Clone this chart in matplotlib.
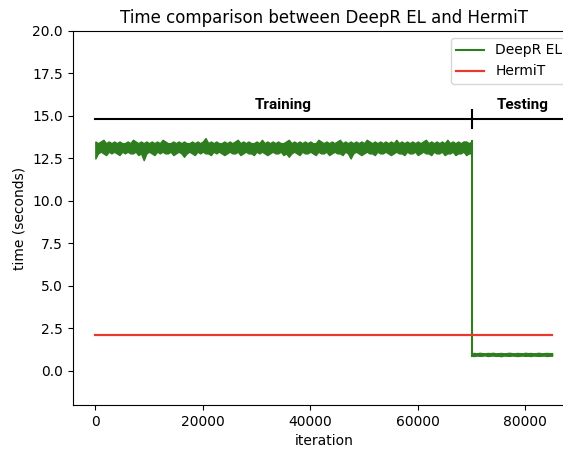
import numpy as np
import matplotlib
matplotlib.use('Agg')
import matplotlib.pyplot as plt

# DeepR EL timing: upper and lower edge of the noisy band,
# one reading every 500 iterations
step = 500
train_high = [
    13.5, 13.4, 13.5, 13.6, 13.4, 13.5, 13.4, 13.5, 13.4, 13.5, 13.4, 13.4, 13.5, 13.4, 13.6, 13.5, 13.4, 13.5, 13.4, 13.5,
    13.4, 13.5, 13.4, 13.5, 13.4, 13.6, 13.5, 13.4, 13.4, 13.5, 13.4, 13.5, 13.4, 13.5, 13.4, 13.4, 13.5, 13.4, 13.5, 13.4,
    13.5, 13.7, 13.4, 13.5, 13.4, 13.5, 13.4, 13.4, 13.5, 13.4, 13.5, 13.4, 13.5, 13.6, 13.4, 13.5, 13.4, 13.5, 13.4, 13.4,
    13.5, 13.4, 13.6, 13.4, 13.5, 13.4, 13.5, 13.4, 13.5, 13.4, 13.4, 13.5, 13.6, 13.4, 13.5, 13.4, 13.5, 13.4, 13.5, 13.4,
    13.5, 13.4, 13.4, 13.6, 13.5, 13.4, 13.5, 13.4, 13.5, 13.4, 13.5, 13.6, 13.4, 13.5, 13.4, 13.5, 13.4, 13.5, 13.4, 13.5,
    13.4, 13.6, 13.5, 13.4, 13.5, 13.4, 13.5, 13.4, 13.5, 13.4, 13.5, 13.4, 13.6, 13.4, 13.5, 13.4, 13.5, 13.4, 13.5, 13.4,
    13.5, 13.4, 13.5, 13.6, 13.4, 13.5, 13.4, 13.5, 13.4, 13.5, 13.4, 13.6, 13.4, 13.5, 13.4, 13.5, 13.4, 13.5, 13.5, 13.4,
    13.5,
]
train_low = [
    12.5, 12.8, 12.9, 12.8, 12.7, 12.9, 12.8, 12.9, 12.8, 12.7, 12.9, 12.8, 12.9, 12.8, 12.8, 12.9, 12.7, 12.8, 12.4, 12.8,
    12.9, 12.8, 12.7, 12.9, 12.8, 12.9, 12.8, 12.8, 12.9, 12.7, 12.8, 12.9, 12.8, 12.6, 12.8, 12.9, 12.8, 12.7, 12.9, 12.8,
    12.9, 12.8, 12.8, 12.7, 12.9, 12.8, 12.9, 12.8, 12.7, 12.8, 12.9, 12.8, 12.8, 12.9, 12.7, 12.8, 12.9, 12.8, 12.8, 12.7,
    12.9, 12.8, 12.9, 12.8, 12.7, 12.8, 12.9, 12.8, 12.8, 12.9, 12.7, 12.8, 12.6, 12.8, 12.9, 12.8, 12.7, 12.9, 12.8, 12.8,
    12.9, 12.8, 12.7, 12.9, 12.8, 12.8, 12.9, 12.7, 12.8, 12.9, 12.8, 12.8, 12.7, 12.9, 12.8, 12.5, 12.8, 12.9, 12.8, 12.7,
    12.8, 12.9, 12.8, 12.8, 12.7, 12.9, 12.8, 12.8, 12.9, 12.8, 12.7, 12.8, 12.9, 12.8, 12.8, 12.7, 12.9, 12.8, 12.8, 12.9,
    12.7, 12.8, 12.9, 12.8, 12.8, 12.7, 12.9, 12.8, 12.8, 12.9, 12.7, 12.8, 12.8, 12.9, 12.7, 12.8, 12.8, 12.9, 12.7, 12.8,
    12.8,
]
test_high = [
    1.05, 1.06, 1.04, 1.07, 1.05, 1.04, 1.06, 1.05, 1.07, 1.04, 1.05, 1.06, 1.04, 1.05, 1.07, 1.05,
    1.04, 1.06, 1.05, 1.04, 1.07, 1.05, 1.06, 1.04, 1.05, 1.07, 1.04, 1.05, 1.06, 1.05, 1.05,
]
test_low = [
    0.9, 0.88, 0.91, 0.89, 0.9, 0.92, 0.88, 0.9, 0.91, 0.89, 0.9, 0.87, 0.91, 0.9, 0.89, 0.91,
    0.9, 0.88, 0.9, 0.91, 0.89, 0.9, 0.88, 0.91, 0.9, 0.89, 0.9, 0.91, 0.88, 0.9, 0.9,
]
hermit_time = 2.1
split_iter = 70000
last_iter = 85000
bar_y = 14.8

green = '#2e7d1f'
red = '#e8392e'

x_train = np.arange(len(train_high)) * step
x_test = split_iter + np.arange(len(test_high)) * step

fig = plt.figure(figsize=(5.63, 4.49), dpi=100)
ax = fig.add_axes([0.1288, 0.098, 0.8925, 0.833])

ax.fill_between(x_train, train_low, train_high, color=green, lw=1.0, edgecolor=green)
ax.fill_between(x_test, test_low, test_high, color=green, lw=1.0, edgecolor=green)
# drop at the train/test switch
ax.plot([split_iter, split_iter], [test_low[0], train_high[-1]],
        color=green, lw=1.5, label='DeepR EL')
ax.plot([0, last_iter], [hermit_time, hermit_time], color=red, lw=1.6, label='HermiT')

# training / testing marker
ax.plot([0, 92000], [bar_y, bar_y], color='black', lw=1.5)
ax.plot([split_iter, split_iter], [bar_y - 0.5, bar_y + 0.55], color='black', lw=1.5)
ax.text(35000, 15.25, 'Training', ha='center', va='bottom', fontsize=11,
        fontweight='bold', family=['Roboto', 'DejaVu Sans'])
ax.text(79600, 15.25, 'Testing', ha='center', va='bottom', fontsize=11,
        fontweight='bold', family=['Roboto', 'DejaVu Sans'])

ax.set_xlim(-4250, 89250)
ax.set_ylim(-2, 20)
ax.set_yticks(np.arange(0, 20.1, 2.5))
ax.set_xticks([0, 20000, 40000, 60000, 80000])
ax.set_xlabel('iteration')
ax.set_ylabel('time (seconds)')
ax.set_title('Time comparison between DeepR EL and HermiT')
ax.legend(loc='upper right')

plt.savefig('out.png', dpi=100)
